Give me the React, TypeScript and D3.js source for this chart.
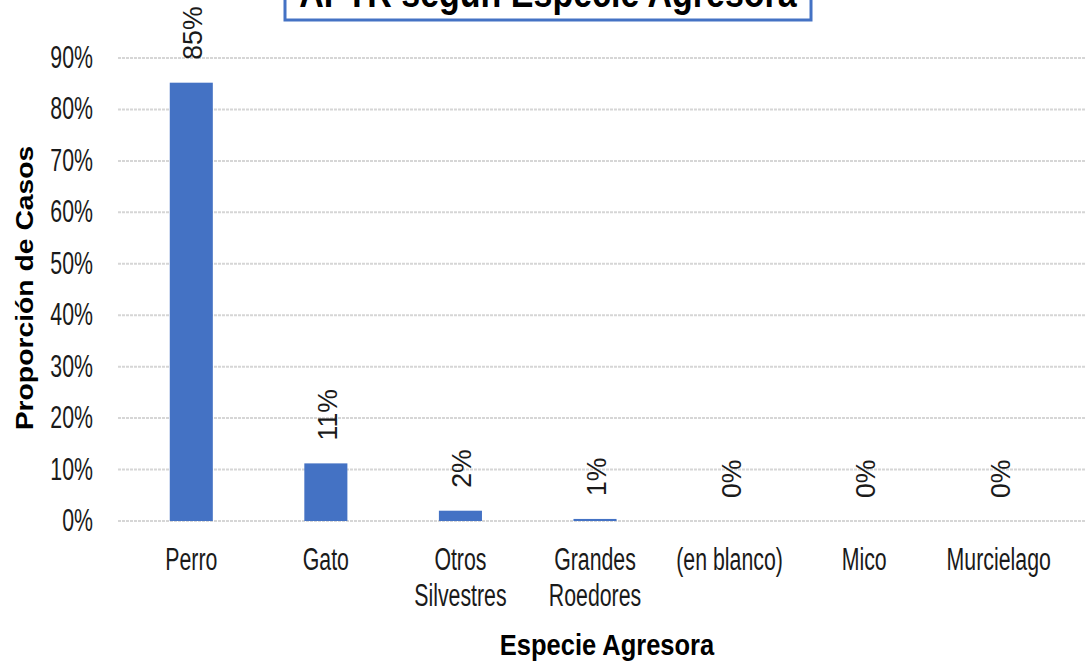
import React from "react";
import * as d3 from "d3";

const categories: string[][] = [
  ["Perro"],
  ["Gato"],
  ["Otros", "Silvestres"],
  ["Grandes", "Roedores"],
  ["(en blanco)"],
  ["Mico"],
  ["Murcielago"],
];
const values: number[] = [0.852, 0.112, 0.02, 0.004, 0, 0, 0];
const labels: string[] = ["85%", "11%", "2%", "1%", "0%", "0%", "0%"];
const yTicks: number[] = [0, 0.1, 0.2, 0.3, 0.4, 0.5, 0.6, 0.7, 0.8, 0.9];

const W = 1086;
const H = 663;
const SANS = "'Liberation Sans', Arial, sans-serif";
const BLUE = "#4472C4";
const SY = 1.18;
const NX = 0.82;

export default function App() {
  const x = d3
    .scaleBand<number>()
    .domain(d3.range(categories.length))
    .range([124, 1066])
    .paddingInner(0.68)
    .paddingOuter(0.34);
  const y = d3.scaleLinear().domain([0, 0.9]).range([521, 58]);
  const fmt = d3.format(".0%");

  return (
    <svg
      width={W}
      height={H}
      style={{ position: "absolute", left: 0, top: 0, background: "#fff" }}
    >
      {/* title box (cropped at top) */}
      <rect x={285} y={-40} width={526} height={60} fill="#fff" stroke={BLUE} strokeWidth={3} />
      <text
        transform={`translate(548,7) scale(1,${SY})`}
        textAnchor="middle"
        fontFamily={SANS}
        fontWeight="bold"
        fontSize={34}
        fill="#000"
      >
        APTR según Especie Agresora
      </text>

      {/* gridlines */}
      {yTicks.map((t) => (
        <line
          key={"g" + t}
          x1={118}
          x2={W}
          y1={y(t)}
          y2={y(t)}
          stroke="#d6d6d6"
          strokeWidth={2}
          strokeDasharray="3 1"
        />
      ))}

      {/* y tick labels */}
      {yTicks.map((t) => (
        <text
          key={"t" + t}
          transform={`translate(93,${y(t) + 10}) scale(${NX},${SY})`}
          textAnchor="end"
          fontFamily={SANS}
          fontSize={26}
          fill="#1a1a1a"
        >
          {fmt(t)}
        </text>
      ))}

      {/* bars */}
      {values.map((v, i) => (
        <rect
          key={"b" + i}
          x={x(i)!}
          y={y(v)}
          width={x.bandwidth()}
          height={y(0) - y(v)}
          fill={BLUE}
        />
      ))}

      {/* data labels */}
      {values.map((v, i) => {
        const cx = x(i)! + x.bandwidth() / 2;
        return (
          <text
            key={"l" + i}
            transform={`translate(${cx + 11},${y(v) - 23}) rotate(-90) scale(0.95,1)`}
            textAnchor="start"
            fontFamily={SANS}
            fontSize={28}
            fill="#1a1a1a"
          >
            {labels[i]}
          </text>
        );
      })}

      {/* category labels */}
      {categories.map((lines, i) => {
        const cx = x(i)! + x.bandwidth() / 2;
        return lines.map((ln, j) => (
          <text
            key={"c" + i + "-" + j}
            transform={`translate(${cx},${570 + j * 36}) scale(${NX},${SY})`}
            textAnchor="middle"
            fontFamily={SANS}
            fontSize={26}
            fill="#1a1a1a"
          >
            {ln}
          </text>
        ));
      })}

      {/* axis titles */}
      <text
        transform={`translate(607,655) scale(1,${SY})`}
        textAnchor="middle"
        fontFamily={SANS}
        fontWeight="bold"
        fontSize={25.5}
        fill="#000"
      >
        Especie Agresora
      </text>
      <text
        transform={`translate(33,288) rotate(-90) scale(${SY},1)`}
        textAnchor="middle"
        fontFamily={SANS}
        fontWeight="bold"
        fontSize={24}
        fill="#000"
      >
        Proporción de Casos
      </text>
    </svg>
  );
}
